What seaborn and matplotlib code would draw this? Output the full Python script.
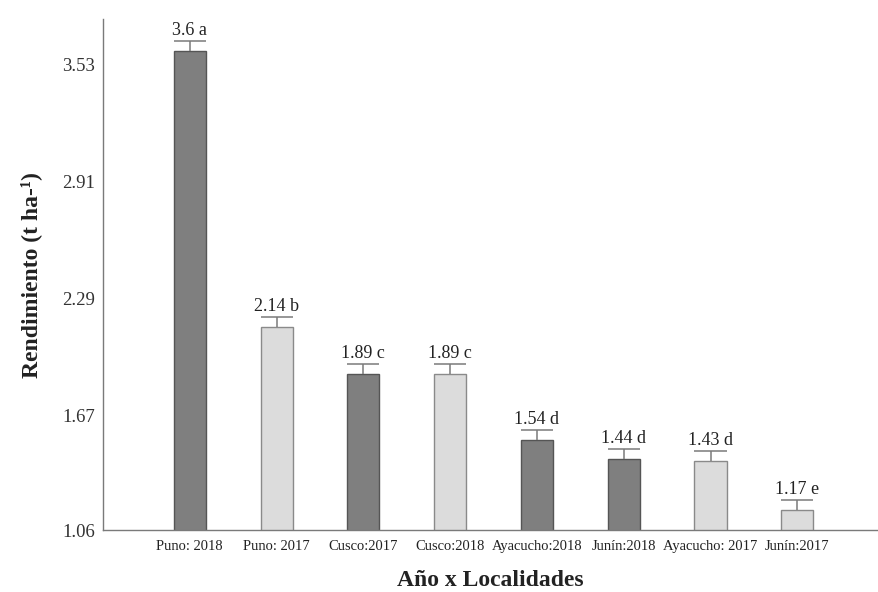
import matplotlib
matplotlib.use("Agg")
import matplotlib.pyplot as plt
import seaborn as sns
import pandas as pd

# Yield per location/year, Tukey letters and standard error
localidades = ["Puno: 2018", "Puno: 2017", "Cusco:2017", "Cusco:2018",
               "Ayacucho:2018", "Junín:2018", "Ayacucho: 2017", "Junín:2017"]
rendimiento = [3.6, 2.14, 1.89, 1.89, 1.54, 1.44, 1.43, 1.17]
letras = ["a", "b", "c", "c", "d", "d", "d", "e"]
error = [0.053, 0.052, 0.051, 0.051, 0.051, 0.051, 0.051, 0.051]
tono = ["oscuro", "claro", "oscuro", "claro", "oscuro", "oscuro", "claro", "claro"]
yticks = [1.06, 1.67, 2.29, 2.91, 3.53]

fill = {"oscuro": "#7f7f7f", "claro": "#dcdcdc"}
edge = {"oscuro": "#555555", "claro": "#8a8a8a"}
bar_w = 0.37

sns.set_theme(style="white")
plt.rcParams["font.family"] = ["Liberation Serif", "DejaVu Serif"]

df = pd.DataFrame({"loc": localidades, "val": rendimiento})

fig = plt.figure(figsize=(8.79, 5.92), dpi=100)
ax = fig.add_axes([0.1172, 0.1039, 0.8817, 0.864])

sns.barplot(data=df, x="loc", y="val", hue="loc",
            palette=[fill[t] for t in tono], width=bar_w,
            legend=False, ax=ax, errorbar=None, saturation=1)

for patch, t in zip(ax.patches, tono):
    patch.set_edgecolor(edge[t])
    patch.set_linewidth(1.0)

# upper-only error bars: stem from bar top plus a cap as wide as the bar
xs = list(range(len(localidades)))
tops = [v + e for v, e in zip(rendimiento, error)]
ax.vlines(xs, rendimiento, tops, colors="#7a7a7a", linewidth=1.1)
ax.hlines(tops, [x - bar_w / 2 for x in xs], [x + bar_w / 2 for x in xs],
          colors="#7a7a7a", linewidth=1.1)

for x, v, t, l in zip(xs, rendimiento, tops, letras):
    ax.annotate(f"{v:g} {l}", (x, t), xytext=(0, 1.5),
                textcoords="offset points", ha="center", va="bottom",
                fontsize=13, color="#222222")

ax.set_ylim(1.06, 3.77)
ax.set_xlim(-1, 7.93)
ax.set_yticks(yticks)
ax.set_yticklabels([f"{t:.2f}" for t in yticks])

for side in ["top", "right"]:
    ax.spines[side].set_visible(False)
for side in ["left", "bottom"]:
    ax.spines[side].set_color("#7a7a7a")
    ax.spines[side].set_linewidth(1.0)

ax.tick_params(axis="both", which="major", direction="out", length=4,
               width=1.0, color="#7a7a7a")
ax.tick_params(axis="y", labelsize=13.5, labelcolor="#333333", pad=2)
ax.tick_params(axis="x", labelsize=10.5, labelcolor="#222222", pad=3)

ax.set_xlabel("Año x Localidades", fontsize=17, fontweight="bold",
              color="#222222", labelpad=12)
ax.set_ylabel("Rendimiento (t ha-¹)", fontsize=17, fontweight="bold",
              color="#222222", labelpad=14)

fig.savefig("out.png", dpi=100)
